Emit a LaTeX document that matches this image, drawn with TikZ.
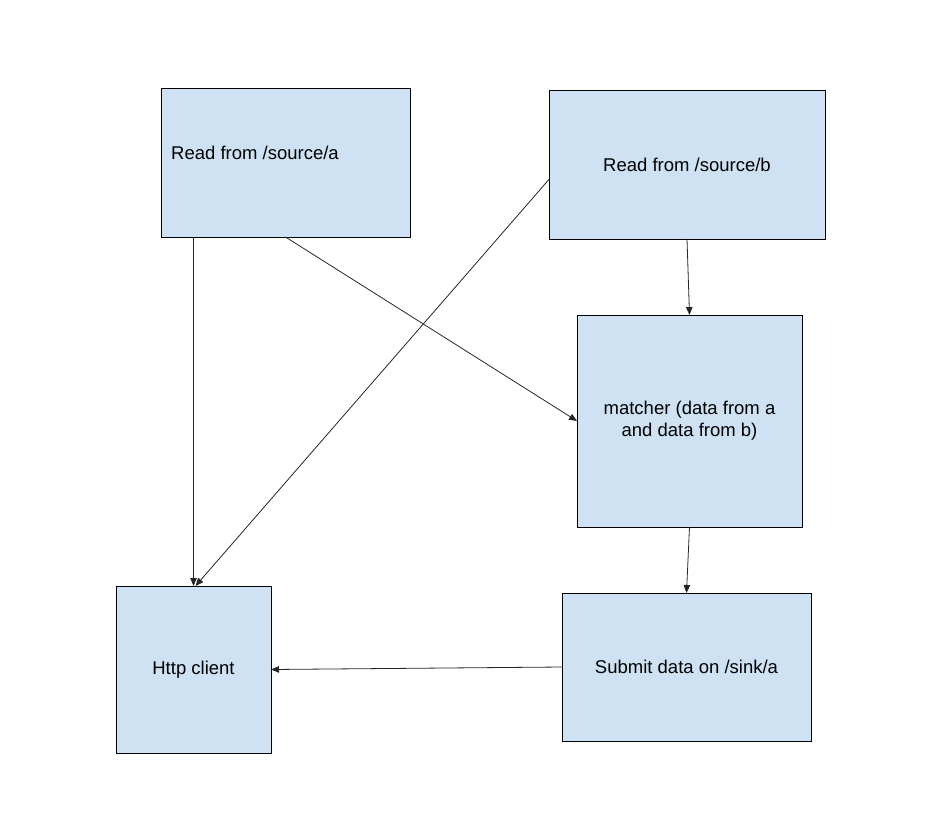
\documentclass[tikz,border=0pt]{standalone}
\usepackage{fontspec}
\setmainfont{Liberation Sans}
\usetikzlibrary{arrows.meta,calc}
\begin{document}
\begin{tikzpicture}[x=1bp,y=-1bp,
  box/.style={draw=black,line width=0.8bp,fill=boxblue,inner sep=0pt,outer sep=0pt,
    font=\fontsize{18.5bp}{22bp}\selectfont,align=center},
  lbl/.style={inner sep=0pt,font=\fontsize{18.5bp}{22bp}\selectfont},
  conn/.style={draw=black!85,line width=0.8bp,-{Triangle[length=8bp,width=6.5bp]}}]
\definecolor{boxblue}{HTML}{CFE2F3}
\useasboundingbox (0,0) rectangle (944,837);
\node[box,minimum width=249bp,minimum height=149bp] (A) at (285.5,162.5) {};
\node[lbl,anchor=west] (At) at (171,153) {Read from /source/a};
\node[box,minimum width=276bp,minimum height=149bp] (B) at (687,164.5) {Read from /source/b};
\node[box,minimum width=225bp,minimum height=212bp] (M) at (689.5,421) {matcher (data from a\\and data from b)};
\node[box,minimum width=249bp,minimum height=148bp] (S) at (686.5,667) {Submit data on /sink/a};
\node[box,minimum width=155bp,minimum height=167bp] (H) at (193.5,669.5) {Http client};
\draw[conn] (A.south -| H.north) -- (H.north);
\draw[conn] (A.south) -- (M.west);
\draw[conn] ($(B.north west)!0.6!(B.south west)$) -- ($(H.north)+(2,0)$);
\draw[conn] (B.south) -- (M.north);
\draw[conn] (M.south) -- (S.north);
\draw[conn] (S.west) -- (H.east);
\end{tikzpicture}
\end{document}
